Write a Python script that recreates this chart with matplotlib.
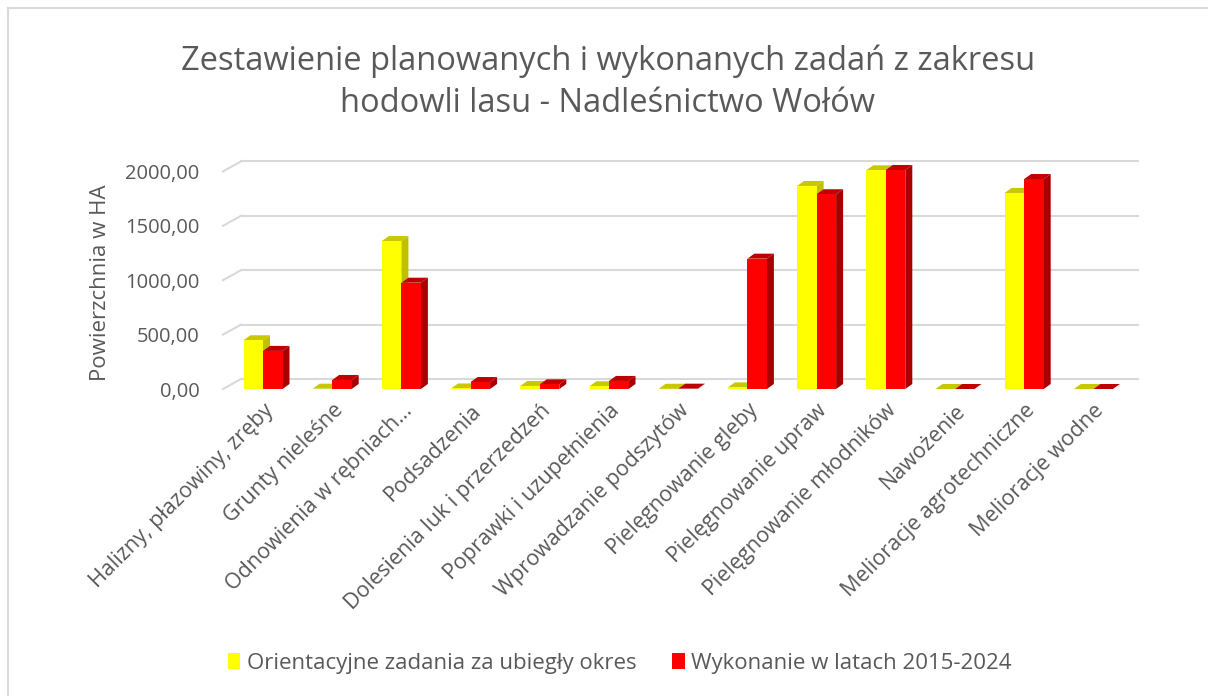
import matplotlib
matplotlib.use("Agg")
import matplotlib.pyplot as plt
from matplotlib.patches import Polygon, Rectangle
from matplotlib.lines import Line2D
import numpy as np

plt.rcParams['font.family'] = ['Open Sans', 'DejaVu Sans']

categories = ["Halizny, płazowiny, zręby", "Grunty nieleśne", "Odnowienia w rębniach…",
              "Podsadzenia", "Dolesienia luk i przerzedzeń", "Poprawki i uzupełnienia",
              "Wprowadzanie podszytów", "Pielęgnowanie gleby", "Pielęgnowanie upraw",
              "Pielęgnowanie młodników", "Nawożenie", "Melioracje agrotechniczne",
              "Melioracje wodne"]
planned = [448, 3, 1360, 5, 28, 25, 2, 15, 1866, 2010, 0, 1802, 0]
executed = [350, 83, 977, 64, 43, 74, 3, 1198, 1790, 2013, 0, 1930, 0]
series_names = ["Orientacyjne zadania za ubiegły okres", "Wykonanie w latach 2015-2024"]
yticks = [0, 500, 1000, 1500, 2000]
ytick_labels = ["0,00", "500,00", "1000,00", "1500,00", "2000,00"]

W, H = 1208, 696
fig = plt.figure(figsize=(W / 100, H / 100), dpi=100)
fig.patch.set_facecolor("white")

# axes in pixel geometry
px_left, px_right, px_bottom, px_top = 223, 1138, 389, 160
ax = fig.add_axes([px_left / W, 1 - px_bottom / H, (px_right - px_left) / W, (px_bottom - px_top) / H])
ppx = 69.2  # pixels per category
x0 = -(263 - px_left) / ppx
x1 = x0 + (px_right - px_left) / ppx
upp = 500 / 54.4  # units per pixel
ax.set_xlim(x0, x1)
ax.set_ylim(0, (px_bottom - px_top) * upp)
for s in ax.spines.values():
    s.set_visible(False)
ax.set_facecolor("none")

grid_c = "#d9d9d9"
bdx = 18 / ppx
bdy = 10 * upp
for v in yticks:
    ax.plot([x0, x0 + bdx], [v, v + bdy], color=grid_c, lw=1.5, zorder=1, clip_on=False)
    ax.plot([x0 + bdx, x1], [v + bdy, v + bdy], color=grid_c, lw=1.5, zorder=1, clip_on=False)

x = np.arange(len(categories))
bw = 19.5 / ppx
sdx = 7 / ppx
sdy = 5 * upp

front_cols = ["#ffff00", "#ff0000"]
side_cols = ["#c0c000", "#a80000"]
top_cols = ["#c8c800", "#c00000"]

for si, vals in enumerate([planned, executed]):
    xs = x - bw + si * bw
    for i in range(len(vals)):
        xl = xs[i]
        v = vals[i]
        xr = xl + bw
        ax.add_patch(Polygon([[xr, 0], [xr + sdx, sdy], [xr + sdx, v + sdy], [xr, v]],
                             closed=True, facecolor=side_cols[si], edgecolor='none',
                             zorder=2 + si * 3 + 0.0))
        ax.add_patch(Polygon([[xl, v], [xl + sdx, v + sdy], [xr + sdx, v + sdy], [xr, v]],
                             closed=True, facecolor=top_cols[si], edgecolor='none',
                             zorder=2 + si * 3 + 0.1))
    ax.bar(xs, vals, width=bw, align='edge', color=front_cols[si], edgecolor='none',
           zorder=2 + si * 3 + 0.2)

ax.set_yticks(yticks)
ax.set_yticklabels(ytick_labels, fontsize=14.5, color="#595959")
ax.tick_params(axis='y', length=0, pad=17)
ax.set_xticks(x)
ax.set_xticklabels(categories, rotation=45, ha='right', va='top', rotation_mode='anchor',
                   fontsize=15.5, color="#595959")
ax.tick_params(axis='x', length=0, pad=8)

fig.text(101 / W, 1 - 283 / H, "Powierzchnia w HA", rotation=90, ha='center', va='center',
         fontsize=16, color="#595959")

fig.text(608 / W, 1 - 82 / H, "Zestawienie planowanych i wykonanych zadań z zakresu\nhodowli lasu - Nadleśnictwo Wołów",
         ha='center', va='center', fontsize=23.5, color="#595959", linespacing=1.35)

handles = [Rectangle((0, 0), 1, 1, facecolor=c, edgecolor='none') for c in front_cols]
fig.legend(handles, series_names, loc='center', bbox_to_anchor=(620 / W, 1 - 663 / H), ncol=2,
           frameon=False, fontsize=16, labelcolor="#595959", handlelength=0.55, handleheight=0.7,
           handletextpad=0.3, columnspacing=1.6)

# border
fig.add_artist(Line2D([8 / W, 8 / W], [0, 1 - 8 / H], color="#d9d9d9", lw=1.5, transform=fig.transFigure))
fig.add_artist(Line2D([8 / W, 1], [1 - 8 / H, 1 - 8 / H], color="#d9d9d9", lw=1.5, transform=fig.transFigure))

fig.savefig("out.png", dpi=100, facecolor="white")
